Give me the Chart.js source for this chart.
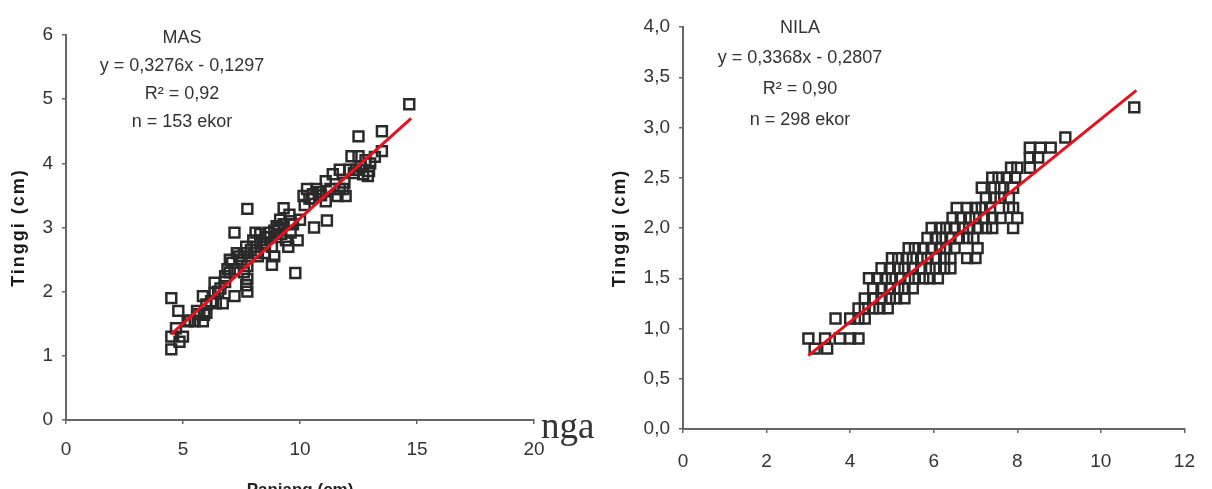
<!DOCTYPE html>
<html>
<head>
<meta charset="utf-8">
<script src="https://cdn.jsdelivr.net/npm/chart.js@4.4.1/dist/chart.umd.min.js"></script>
<style>
  html, body { margin: 0; padding: 0; background: #fff; overflow: hidden; width: 1212px; height: 489px; }
  .box { position: absolute; top: 0; width: 606px; }
  #left { left: 0; height: 510px; }
  #right { left: 606px; height: 489px; }
  #frag { position: absolute; left: 541px; top: 407px; font: 37px "Liberation Serif", "Times New Roman", serif; line-height: 1; color: #333; }
</style>
</head>
<body>
<div class="box" id="left"><canvas id="masChart"></canvas></div>
<div class="box" id="right"><canvas id="nilaChart"></canvas></div>
<div id="frag">nga</div>
<script>
// MAS: panjang (cm) vs tinggi (cm)
const masX = [4.5, 4.8, 4.5, 4.5, 4.85, 5.0, 4.7, 5.2, 5.5, 5.85, 5.9, 5.85, 6.0, 6.35, 6.35, 6.4, 6.7,
  6.8, 7.0, 7.2, 7.2, 7.3, 7.5, 7.7, 7.75, 7.75, 7.75, 7.75, 8.1, 8.15, 8.3, 8.5, 8.65, 8.8, 8.8, 8.9,
  9.0, 9.15, 9.3, 9.5, 9.55, 9.6, 9.8, 9.9, 10.0, 10.15, 10.3, 10.55, 10.6, 10.7, 11.1, 11.1, 11.15,
  11.4, 11.6, 11.7, 11.85, 11.95, 12.2, 12.3, 12.5, 12.5, 12.7, 12.95, 13.0, 13.2, 13.5, 13.5, 14.67,
  8.4, 8.6, 8.9, 9.2, 7.9, 8.2, 6.9, 7.1, 6.6, 6.2, 5.7, 10.4, 10.9, 11.7, 12.1, 12.6, 12.9, 9.4, 9.7, 8.1,
  6.5, 6.8, 7.0, 7.2, 7.4, 7.6, 8.0, 8.3, 8.5, 8.7, 9.0, 9.1, 9.3, 9.6, 10.2, 10.5, 10.8, 11.3, 11.9,
  12.4, 12.8, 5.3, 5.6, 6.0, 7.6, 7.7];
const masY = [1.9, 1.7, 1.3, 1.1, 1.22, 1.3, 1.43, 1.54, 1.54, 1.93, 1.64, 1.54, 1.67, 1.98, 2.14, 1.82, 1.82,
  2.24, 2.5, 2.92, 1.93, 2.6, 2.5, 2.7, 2.0, 2.2, 3.29, 2.4, 2.92, 2.7, 2.8, 2.6, 2.92, 2.7, 2.42, 2.55,
  3.02, 3.12, 3.3, 2.7, 3.2, 2.92, 2.29, 2.8, 3.12, 3.49, 3.6, 3.52, 3.0, 3.6, 3.41, 3.72, 3.11,
  3.83, 3.49, 3.9, 3.6, 3.49, 4.11, 3.85, 4.42, 4.11, 3.83, 3.88, 4.0, 4.1, 4.19, 4.5, 4.92,
  2.75, 2.85, 2.95, 2.9, 2.65, 2.55, 2.35, 2.45, 2.05, 1.85, 1.65, 3.45, 3.5, 3.6, 3.9, 3.95, 3.8, 2.8, 3.05, 2.6,
  2.0, 2.15, 2.3, 2.35, 2.55, 2.6, 2.8, 2.9, 2.75, 2.85, 2.85, 3.0, 3.05, 3.1, 3.35, 3.45, 3.55, 3.6, 3.7,
  3.9, 4.05, 1.55, 1.7, 1.8, 2.3, 2.1];
const masLineX = [4.5, 14.75];
const masLineY = [1.34, 4.70];
const masTicksX = ["0", "5", "10", "15", "20"];
const masTicksY = ["0", "1", "2", "3", "4", "5", "6"];
const masNotes = ["MAS", "y = 0,3276x - 0,1297", "R² = 0,92", "n = 153 ekor"];

// NILA: panjang (cm) vs tinggi (cm)
const nilaX = [3.15, 3.45,
  3.0, 3.4, 3.75, 4.0, 4.2,
  3.65, 4.0, 4.2, 4.35,
  4.2, 4.35, 4.55, 4.7, 4.9,
  4.35, 4.55, 4.75, 4.95, 5.1, 5.3,
  4.55, 4.75, 4.95, 5.15, 5.3, 5.5,
  4.45, 4.65, 4.85, 5.0, 5.2, 5.4, 5.55, 5.75, 5.9, 6.1,
  4.75, 4.95, 5.15, 5.3, 5.5, 5.7, 5.9, 6.05, 6.25, 6.4,
  5.0, 5.15, 5.35, 5.5, 5.7, 5.85, 6.05, 6.25, 6.4, 6.8, 7.0,
  5.4, 5.55, 5.75, 5.95, 6.15, 6.3, 6.5, 7.05,
  5.85, 6.05, 6.2, 6.4, 6.6, 6.8, 6.95,
  5.95, 6.15, 6.3, 6.5, 6.7, 6.85, 7.05, 7.25, 7.4, 7.9,
  6.45, 6.65, 6.85, 7.0, 7.2, 7.4, 7.6, 8.0,
  6.55, 6.8, 7.0, 7.15, 7.35, 7.8, 7.9,
  7.25, 7.45, 7.6, 7.8,
  7.15, 7.45, 7.6, 7.9,
  7.4, 7.55, 7.75, 7.95,
  7.85, 8.0, 8.3,
  8.3, 8.5,
  8.3, 8.55, 8.8,
  9.15,
  10.8];
const nilaY = [0.8, 0.8,
  0.9, 0.9, 0.9, 0.9, 0.9,
  1.1, 1.1, 1.1, 1.1,
  1.2, 1.2, 1.2, 1.2, 1.2,
  1.3, 1.3, 1.3, 1.3, 1.3, 1.3,
  1.4, 1.4, 1.4, 1.4, 1.4, 1.4,
  1.5, 1.5, 1.5, 1.5, 1.5, 1.5, 1.5, 1.5, 1.5, 1.5,
  1.6, 1.6, 1.6, 1.6, 1.6, 1.6, 1.6, 1.6, 1.6, 1.6,
  1.7, 1.7, 1.7, 1.7, 1.7, 1.7, 1.7, 1.7, 1.7, 1.7, 1.7,
  1.8, 1.8, 1.8, 1.8, 1.8, 1.8, 1.8, 1.8,
  1.9, 1.9, 1.9, 1.9, 1.9, 1.9, 1.9,
  2.0, 2.0, 2.0, 2.0, 2.0, 2.0, 2.0, 2.0, 2.0, 2.0,
  2.1, 2.1, 2.1, 2.1, 2.1, 2.1, 2.1, 2.1,
  2.2, 2.2, 2.2, 2.2, 2.2, 2.2, 2.2,
  2.3, 2.3, 2.3, 2.3,
  2.4, 2.4, 2.4, 2.4,
  2.5, 2.5, 2.5, 2.5,
  2.6, 2.6, 2.6,
  2.7, 2.7,
  2.8, 2.8, 2.8,
  2.9,
  3.2];
const nilaLineX = [3.0, 10.85];
const nilaLineY = [0.73, 3.37];
const nilaTicksX = ["0", "2", "4", "6", "8", "10", "12"];
const nilaTicksY = ["0,0", "0,5", "1,0", "1,5", "2,0", "2,5", "3,0", "3,5", "4,0"];
const nilaNotes = ["NILA", "y = 0,3368x - 0,2807", "R² = 0,90", "n = 298 ekor"];

const sans = '"Liberation Sans Narrow", "Arial Narrow", "Liberation Sans", Arial, sans-serif';
const inkColor = "#2a2a2a";
const axisColor = "#666";

function toPoints(xs, ys) {
  return xs.map((x, i) => ({ x: x, y: ys[i] }));
}

// spaced bold axis title, like the original
const spacedTitle = {
  id: "spacedTitle",
  afterLayout(chart) {
    const sc = chart.scales.y;
    if (sc._patched) return;
    const orig = sc.drawTitle;
    sc.drawTitle = function () {
      chart.ctx.save();
      chart.ctx.letterSpacing = "2px";
      orig.apply(this, arguments);
      chart.ctx.restore();
    };
    sc._patched = true;
  },
};

const notesPlugin = {
  id: "notes",
  afterDraw(chart, args, opts) {
    const ctx = chart.ctx;
    ctx.save();
    ctx.fillStyle = "#333";
    ctx.font = "18px " + sans;
    ctx.textAlign = "center";
    ctx.textBaseline = "middle";
    opts.lines.forEach((t, i) => {
      ctx.fillText(t, opts.x, opts.y[i]);
    });
    ctx.restore();
  },
};

function makeChart(id, cfg) {
  const ctx = document.getElementById(id).getContext("2d");
  return new Chart(ctx, {
    type: "scatter",
    data: {
      datasets: [
        {
          type: "line",
          data: toPoints(cfg.lineX, cfg.lineY),
          borderColor: "#e8101a",
          borderWidth: 3,
          pointRadius: 0,
          fill: false,
          order: 0,
        },
        {
          data: toPoints(cfg.xs, cfg.ys),
          pointStyle: "rect",
          pointRadius: 7,
          pointBorderWidth: 2.5,
          pointBorderColor: inkColor,
          pointBackgroundColor: "rgba(255,255,255,0)",
          order: 1,
        },
      ],
    },
    plugins: [spacedTitle, notesPlugin],
    options: {
      responsive: true,
      maintainAspectRatio: false,
      animation: false,
      events: [],
      layout: { padding: cfg.padding },
      plugins: {
        legend: { display: false },
        tooltip: { enabled: false },
        notes: cfg.notes,
      },
      scales: {
        x: {
          type: "linear",
          min: 0,
          max: cfg.xMax,
          afterFit: (s) => { s.height = cfg.xHeight; },
          afterBuildTicks: (s) => {
            s.ticks = cfg.ticksX.map((t, i) => ({ value: i * cfg.xStep }));
          },
          ticks: {
            color: "#333",
            padding: cfg.xPad,
            font: { size: 19, family: sans },
            callback: (v, i) => cfg.ticksX[i],
          },
          grid: { display: true, drawOnChartArea: false, drawTicks: true, tickLength: 4, color: axisColor, lineWidth: 1.5 },
          border: { display: true, color: axisColor, width: 2 },
          title: {
            display: !!cfg.xTitle,
            text: cfg.xTitle || "",
            color: "#222",
            padding: { top: 0, bottom: 9 },
            font: { size: 17, weight: "bold", family: '"Liberation Sans", Arial, sans-serif' },
          },
        },
        y: {
          type: "linear",
          min: 0,
          max: cfg.yMax,
          afterFit: (s) => { s.width = cfg.yWidth; },
          afterBuildTicks: (s) => {
            s.ticks = cfg.ticksY.map((t, i) => ({ value: i * cfg.yStep }));
          },
          ticks: {
            color: "#333",
            padding: 9,
            font: { size: 19, family: sans },
            callback: (v, i) => cfg.ticksY[i],
          },
          grid: { display: true, drawOnChartArea: false, drawTicks: true, tickLength: 4, color: axisColor, lineWidth: 1.5 },
          border: { display: true, color: axisColor, width: 2 },
          title: {
            display: true,
            text: "Tinggi (cm)",
            color: "#1a1a1a",
            padding: { top: cfg.yTitlePad, bottom: 0 },
            font: { size: 18, weight: "bold", family: '"Liberation Sans", Arial, sans-serif' },
          },
        },
      },
    },
  });
}

makeChart("masChart", {
  xs: masX, ys: masY, lineX: masLineX, lineY: masLineY,
  ticksX: masTicksX, ticksY: masTicksY, xStep: 5, yStep: 1, xMax: 20, yMax: 6,
  padding: { left: 0, top: 35, right: 72, bottom: 0 },
  xHeight: 90, yWidth: 66, xPad: 14, yTitlePad: 8,
  xTitle: "Panjang (cm)",
  notes: { lines: masNotes, x: 182, y: [38, 66, 94, 122] },
});

makeChart("nilaChart", {
  xs: nilaX, ys: nilaY, lineX: nilaLineX, lineY: nilaLineY,
  ticksX: nilaTicksX, ticksY: nilaTicksY, xStep: 2, yStep: 0.5, xMax: 12, yMax: 4,
  padding: { left: 0, top: 27, right: 24, bottom: 0 },
  xHeight: 60, yWidth: 77, xPad: 17, yTitlePad: 3,
  xTitle: "",
  notes: { lines: nilaNotes, x: 194, y: [28, 58, 89, 120] },
});
</script>
</body>
</html>
